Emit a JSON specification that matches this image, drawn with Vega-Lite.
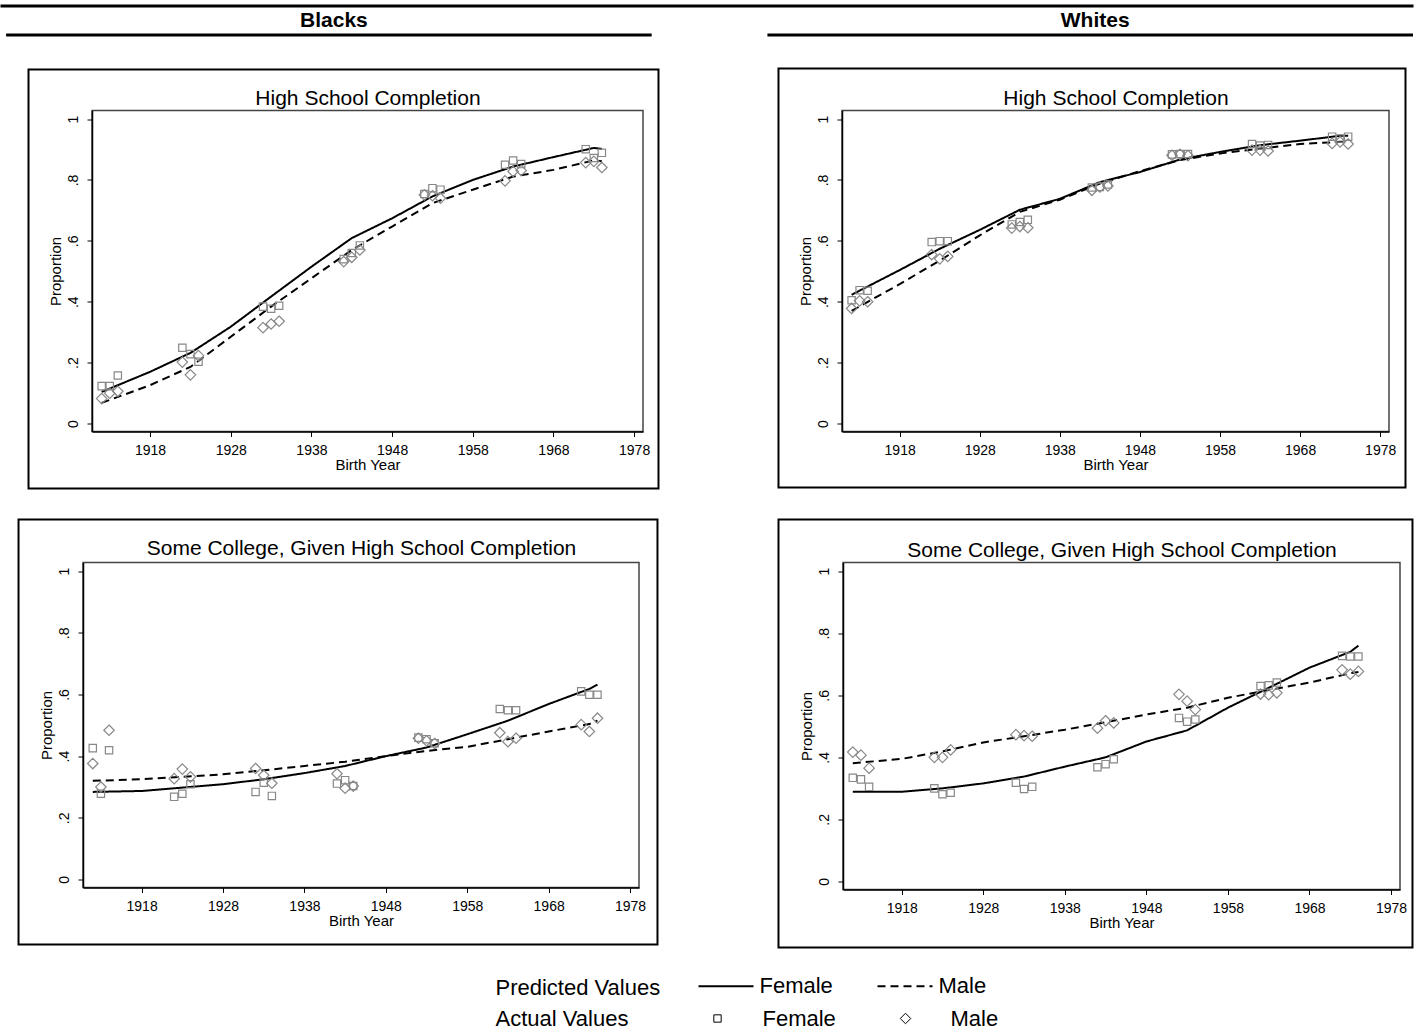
{
  "$schema": "https://vega.github.io/schema/vega-lite/v6.json",
  "padding": {"left": 0, "top": 5.5, "right": 0, "bottom": 0},
  "background": "white",
  "bounds": "flush",
  "spacing": 0,
  "config": {
    "font": "Liberation Sans",
    "view": {"stroke": "#444", "strokeWidth": 1.5},
    "axis": {"grid": false, "labelFontSize": 14, "labelColor": "black", "titleFontSize": 15, "titleFontWeight": "normal", "titleColor": "black", "tickColor": "black", "tickSize": 5, "domainColor": "black", "domainWidth": 1.5},
    "axisX": {"labelPadding": 7, "titlePadding": 0, "labelAngle": 0},
    "axisY": {"labelAngle": -90, "labelAlign": "center", "labelBaseline": "bottom", "labelPadding": 7, "titlePadding": 3},
    "legend": {"titleFontSize": 22, "labelFontSize": 22, "titleFontWeight": "normal", "titleColor": "black", "labelColor": "black", "titleLimit": 400, "labelLimit": 300}
  },
  "datasets": {
    "frames": [{"frame": "outer"}],
    "pred": [
      {"race":"Blacks","outcome":"HS","year":1912,"Female":0.104,"Male":0.068},
      {"race":"Blacks","outcome":"HS","year":1918,"Female":0.17,"Male":0.126},
      {"race":"Blacks","outcome":"HS","year":1923,"Female":0.232,"Male":0.186},
      {"race":"Blacks","outcome":"HS","year":1928,"Female":0.318,"Male":0.285},
      {"race":"Blacks","outcome":"HS","year":1933,"Female":0.417,"Male":0.384},
      {"race":"Blacks","outcome":"HS","year":1938,"Female":0.515,"Male":0.477},
      {"race":"Blacks","outcome":"HS","year":1943,"Female":0.609,"Male":0.57},
      {"race":"Blacks","outcome":"HS","year":1948,"Female":0.674,"Male":0.647},
      {"race":"Blacks","outcome":"HS","year":1953,"Female":0.746,"Male":0.724},
      {"race":"Blacks","outcome":"HS","year":1958,"Female":0.8,"Male":0.768},
      {"race":"Blacks","outcome":"HS","year":1963,"Female":0.844,"Male":0.811},
      {"race":"Blacks","outcome":"HS","year":1968,"Female":0.875,"Male":0.833},
      {"race":"Blacks","outcome":"HS","year":1973,"Female":0.905,"Male":0.864},
      {"race":"Blacks","outcome":"HS","year":1974,"Female":0.902,"Male":0.861},
      {"race":"Whites","outcome":"HS","year":1912,"Female":0.423,"Male":0.37},
      {"race":"Whites","outcome":"HS","year":1918,"Female":0.504,"Male":0.458},
      {"race":"Whites","outcome":"HS","year":1923,"Female":0.574,"Male":0.535},
      {"race":"Whites","outcome":"HS","year":1928,"Female":0.636,"Male":0.618},
      {"race":"Whites","outcome":"HS","year":1933,"Female":0.702,"Male":0.695},
      {"race":"Whites","outcome":"HS","year":1938,"Female":0.738,"Male":0.735},
      {"race":"Whites","outcome":"HS","year":1943,"Female":0.793,"Male":0.788},
      {"race":"Whites","outcome":"HS","year":1948,"Female":0.826,"Male":0.829},
      {"race":"Whites","outcome":"HS","year":1953,"Female":0.867,"Male":0.865},
      {"race":"Whites","outcome":"HS","year":1958,"Female":0.892,"Male":0.887},
      {"race":"Whites","outcome":"HS","year":1963,"Female":0.914,"Male":0.903},
      {"race":"Whites","outcome":"HS","year":1968,"Female":0.929,"Male":0.918},
      {"race":"Whites","outcome":"HS","year":1973,"Female":0.945,"Male":0.925},
      {"race":"Whites","outcome":"HS","year":1974,"Female":0.945,"Male":0.925},
      {"race":"Blacks","outcome":"SC","year":1912,"Female":0.284,"Male":0.32},
      {"race":"Blacks","outcome":"SC","year":1918,"Female":0.287,"Male":0.325},
      {"race":"Blacks","outcome":"SC","year":1923,"Female":0.298,"Male":0.333},
      {"race":"Blacks","outcome":"SC","year":1928,"Female":0.309,"Male":0.341},
      {"race":"Blacks","outcome":"SC","year":1933,"Female":0.325,"Male":0.354},
      {"race":"Blacks","outcome":"SC","year":1938,"Female":0.345,"Male":0.368},
      {"race":"Blacks","outcome":"SC","year":1943,"Female":0.368,"Male":0.382},
      {"race":"Blacks","outcome":"SC","year":1948,"Female":0.4,"Male":0.4},
      {"race":"Blacks","outcome":"SC","year":1953,"Female":0.428,"Male":0.417},
      {"race":"Blacks","outcome":"SC","year":1958,"Female":0.471,"Male":0.43},
      {"race":"Blacks","outcome":"SC","year":1963,"Female":0.515,"Male":0.455},
      {"race":"Blacks","outcome":"SC","year":1968,"Female":0.569,"Male":0.48},
      {"race":"Blacks","outcome":"SC","year":1973,"Female":0.618,"Male":0.504},
      {"race":"Blacks","outcome":"SC","year":1974,"Female":0.632,"Male":0.515},
      {"race":"Whites","outcome":"SC","year":1912,"Female":0.289,"Male":0.381},
      {"race":"Whites","outcome":"SC","year":1918,"Female":0.289,"Male":0.395},
      {"race":"Whites","outcome":"SC","year":1923,"Female":0.3,"Male":0.419},
      {"race":"Whites","outcome":"SC","year":1928,"Female":0.316,"Male":0.448},
      {"race":"Whites","outcome":"SC","year":1933,"Female":0.338,"Male":0.468},
      {"race":"Whites","outcome":"SC","year":1938,"Female":0.37,"Male":0.489},
      {"race":"Whites","outcome":"SC","year":1943,"Female":0.4,"Male":0.513},
      {"race":"Whites","outcome":"SC","year":1948,"Female":0.451,"Male":0.538},
      {"race":"Whites","outcome":"SC","year":1953,"Female":0.487,"Male":0.56},
      {"race":"Whites","outcome":"SC","year":1958,"Female":0.56,"Male":0.592},
      {"race":"Whites","outcome":"SC","year":1963,"Female":0.624,"Male":0.617},
      {"race":"Whites","outcome":"SC","year":1968,"Female":0.689,"Male":0.641},
      {"race":"Whites","outcome":"SC","year":1973,"Female":0.74,"Male":0.671},
      {"race":"Whites","outcome":"SC","year":1974,"Female":0.76,"Male":0.675}
    ],
    "act": [
      {"race":"Blacks","outcome":"HS","year":1912,"Female":0.123,"Male":0.082},
      {"race":"Blacks","outcome":"HS","year":1913,"Female":0.123,"Male":0.1},
      {"race":"Blacks","outcome":"HS","year":1914,"Female":0.158,"Male":0.106},
      {"race":"Blacks","outcome":"HS","year":1922,"Female":0.249,"Male":0.202},
      {"race":"Blacks","outcome":"HS","year":1923,"Female":0.228,"Male":0.16},
      {"race":"Blacks","outcome":"HS","year":1924,"Female":0.203,"Male":0.223},
      {"race":"Blacks","outcome":"HS","year":1932,"Female":0.384,"Male":0.315},
      {"race":"Blacks","outcome":"HS","year":1933,"Female":0.377,"Male":0.327},
      {"race":"Blacks","outcome":"HS","year":1934,"Female":0.387,"Male":0.336},
      {"race":"Blacks","outcome":"HS","year":1942,"Female":0.54,"Male":0.532},
      {"race":"Blacks","outcome":"HS","year":1943,"Female":0.56,"Male":0.546},
      {"race":"Blacks","outcome":"HS","year":1944,"Female":0.585,"Male":0.57},
      {"race":"Blacks","outcome":"HS","year":1952,"Female":0.754,"Male":0.751},
      {"race":"Blacks","outcome":"HS","year":1953,"Female":0.773,"Male":0.748},
      {"race":"Blacks","outcome":"HS","year":1954,"Female":0.768,"Male":0.74},
      {"race":"Blacks","outcome":"HS","year":1962,"Female":0.85,"Male":0.797},
      {"race":"Blacks","outcome":"HS","year":1963,"Female":0.864,"Male":0.828},
      {"race":"Blacks","outcome":"HS","year":1964,"Female":0.852,"Male":0.831},
      {"race":"Blacks","outcome":"HS","year":1972,"Female":0.901,"Male":0.857},
      {"race":"Blacks","outcome":"HS","year":1973,"Female":0.872,"Male":0.861},
      {"race":"Blacks","outcome":"HS","year":1974,"Female":0.889,"Male":0.841},
      {"race":"Whites","outcome":"HS","year":1912,"Female":0.405,"Male":0.378},
      {"race":"Whites","outcome":"HS","year":1913,"Female":0.438,"Male":0.403},
      {"race":"Whites","outcome":"HS","year":1914,"Female":0.436,"Male":0.4},
      {"race":"Whites","outcome":"HS","year":1922,"Female":0.596,"Male":0.555},
      {"race":"Whites","outcome":"HS","year":1923,"Female":0.599,"Male":0.541},
      {"race":"Whites","outcome":"HS","year":1924,"Female":0.599,"Male":0.549},
      {"race":"Whites","outcome":"HS","year":1932,"Female":0.654,"Male":0.642},
      {"race":"Whites","outcome":"HS","year":1933,"Female":0.662,"Male":0.647},
      {"race":"Whites","outcome":"HS","year":1934,"Female":0.669,"Male":0.643},
      {"race":"Whites","outcome":"HS","year":1942,"Female":0.775,"Male":0.766},
      {"race":"Whites","outcome":"HS","year":1943,"Female":0.777,"Male":0.777},
      {"race":"Whites","outcome":"HS","year":1944,"Female":0.785,"Male":0.78},
      {"race":"Whites","outcome":"HS","year":1952,"Female":0.884,"Male":0.881},
      {"race":"Whites","outcome":"HS","year":1953,"Female":0.885,"Male":0.884},
      {"race":"Whites","outcome":"HS","year":1954,"Female":0.885,"Male":0.88},
      {"race":"Whites","outcome":"HS","year":1962,"Female":0.918,"Male":0.898},
      {"race":"Whites","outcome":"HS","year":1963,"Female":0.913,"Male":0.898},
      {"race":"Whites","outcome":"HS","year":1964,"Female":0.915,"Male":0.895},
      {"race":"Whites","outcome":"HS","year":1972,"Female":0.942,"Male":0.92},
      {"race":"Whites","outcome":"HS","year":1973,"Female":0.936,"Male":0.925},
      {"race":"Whites","outcome":"HS","year":1974,"Female":0.942,"Male":0.918},
      {"race":"Blacks","outcome":"SC","year":1912,"Female":0.426,"Male":0.376},
      {"race":"Blacks","outcome":"SC","year":1913,"Female":0.278,"Male":0.3},
      {"race":"Blacks","outcome":"SC","year":1914,"Female":0.419,"Male":0.484},
      {"race":"Blacks","outcome":"SC","year":1922,"Female":0.268,"Male":0.327},
      {"race":"Blacks","outcome":"SC","year":1923,"Female":0.278,"Male":0.358},
      {"race":"Blacks","outcome":"SC","year":1924,"Female":0.309,"Male":0.333},
      {"race":"Blacks","outcome":"SC","year":1932,"Female":0.284,"Male":0.36},
      {"race":"Blacks","outcome":"SC","year":1933,"Female":0.314,"Male":0.338},
      {"race":"Blacks","outcome":"SC","year":1934,"Female":0.271,"Male":0.312},
      {"race":"Blacks","outcome":"SC","year":1942,"Female":0.311,"Male":0.343},
      {"race":"Blacks","outcome":"SC","year":1943,"Female":0.322,"Male":0.296},
      {"race":"Blacks","outcome":"SC","year":1944,"Female":0.303,"Male":0.303},
      {"race":"Blacks","outcome":"SC","year":1952,"Female":0.46,"Male":0.458},
      {"race":"Blacks","outcome":"SC","year":1953,"Female":0.455,"Male":0.45},
      {"race":"Blacks","outcome":"SC","year":1954,"Female":0.442,"Male":0.441},
      {"race":"Blacks","outcome":"SC","year":1962,"Female":0.553,"Male":0.476},
      {"race":"Blacks","outcome":"SC","year":1963,"Female":0.549,"Male":0.447},
      {"race":"Blacks","outcome":"SC","year":1964,"Female":0.549,"Male":0.458},
      {"race":"Blacks","outcome":"SC","year":1972,"Female":0.61,"Male":0.502},
      {"race":"Blacks","outcome":"SC","year":1973,"Female":0.599,"Male":0.48},
      {"race":"Blacks","outcome":"SC","year":1974,"Female":0.599,"Male":0.523},
      {"race":"Whites","outcome":"SC","year":1912,"Female":0.334,"Male":0.417},
      {"race":"Whites","outcome":"SC","year":1913,"Female":0.329,"Male":0.407},
      {"race":"Whites","outcome":"SC","year":1914,"Female":0.305,"Male":0.365},
      {"race":"Whites","outcome":"SC","year":1922,"Female":0.3,"Male":0.4},
      {"race":"Whites","outcome":"SC","year":1923,"Female":0.281,"Male":0.4},
      {"race":"Whites","outcome":"SC","year":1924,"Female":0.286,"Male":0.424},
      {"race":"Whites","outcome":"SC","year":1932,"Female":0.318,"Male":0.473},
      {"race":"Whites","outcome":"SC","year":1933,"Female":0.298,"Male":0.47},
      {"race":"Whites","outcome":"SC","year":1934,"Female":0.305,"Male":0.468},
      {"race":"Whites","outcome":"SC","year":1942,"Female":0.368,"Male":0.494},
      {"race":"Whites","outcome":"SC","year":1943,"Female":0.378,"Male":0.518},
      {"race":"Whites","outcome":"SC","year":1944,"Female":0.394,"Male":0.511},
      {"race":"Whites","outcome":"SC","year":1952,"Female":0.527,"Male":0.603},
      {"race":"Whites","outcome":"SC","year":1953,"Female":0.515,"Male":0.581},
      {"race":"Whites","outcome":"SC","year":1954,"Female":0.522,"Male":0.554},
      {"race":"Whites","outcome":"SC","year":1962,"Female":0.63,"Male":0.604},
      {"race":"Whites","outcome":"SC","year":1963,"Female":0.632,"Male":0.602},
      {"race":"Whites","outcome":"SC","year":1964,"Female":0.641,"Male":0.608},
      {"race":"Whites","outcome":"SC","year":1972,"Female":0.727,"Male":0.682},
      {"race":"Whites","outcome":"SC","year":1973,"Female":0.725,"Male":0.668},
      {"race":"Whites","outcome":"SC","year":1974,"Female":0.725,"Male":0.677}
    ]
  },
  "vconcat": [
    {
      "width": 1413, "height": 31,
      "view": {"stroke": null},
      "data": {"values": [{"race": "Blacks"}, {"race": "Whites"}]},
      "encoding": {"x": {"field": "race", "type": "nominal", "scale": {"type": "band", "paddingInner": 0.152, "paddingOuter": 0.004, "align": 1}, "axis": {"orient": "top", "title": null, "labels": false, "ticks": false, "domain": true, "domainWidth": 3, "domainColor": "black"}}},
      "layer": [
        {"mark": {"type": "bar", "color": "black"}, "encoding": {"y": {"datum": 0, "type": "quantitative", "scale": {"domain": [0, 1]}, "axis": null}, "y2": {"datum": 0.097}}},
        {"mark": {"type": "text", "fontSize": 21, "fontWeight": "bold", "baseline": "middle", "color": "black", "dx": 5}, "encoding": {"text": {"field": "race"}, "y": {"datum": 0.5, "type": "quantitative", "axis": null}}}
      ]
    },
    {"width": 1, "height": 74, "view": {"stroke": null}, "data": {"values": []}, "mark": "point"},
    {
      "bounds": "flush", "spacing": 0,
      "hconcat": [
        {"width": 92, "height": 321, "view": {"stroke": null}, "data": {"values": []}, "mark": "point"},
        {
          "width": 551, "height": 321,
          "resolve": {"axis": {"x": "independent"}},
          "layer": [
            {"data": {"name": "frames"}, "mark": {"type": "rect", "fillOpacity": 0, "stroke": "black", "strokeWidth": 2, "clip": false},
             "encoding": {
               "x": {"datum": 1902.93, "type": "quantitative", "scale": {"domain": [1910.8, 1979.1], "nice": false, "zero": false}, "axis": {"orient": "top", "title": "High School Completion", "labels": false, "ticks": false, "domain": false, "titleFontSize": 21, "titlePadding": 6.5, "titleBaseline": "alphabetic"}},
               "x2": {"datum": 1981.02},
               "y": {"datum": 1.1626, "type": "quantitative", "scale": {"domain": [-0.026, 1.028], "nice": false, "zero": false}, "axis": {"values": [0,0.2,0.4,0.6,0.8,1], "labelExpr": "datum.value == 0 ? '0' : datum.value > 0.99 ? '1' : '.' + round(datum.value * 10)", "title": "Proportion"}},
               "y2": {"datum": -0.2132}}},
            {"data": {"name": "pred"}, "transform": [{"filter": "datum.race == 'Blacks' && datum.outcome == 'HS'"}, {"fold": ["Female", "Male"], "as": ["sex", "p"]}],
             "mark": {"type": "line", "color": "black", "strokeWidth": 2},
             "encoding": {
               "x": {"field": "year", "type": "quantitative", "scale": {"domain": [1910.8, 1979.1], "nice": false, "zero": false}, "axis": {"values": [1918,1928,1938,1948,1958,1968,1978], "format": "d", "title": "Birth Year"}},
               "y": {"field": "p", "type": "quantitative", "scale": {"domain": [-0.026, 1.028], "nice": false, "zero": false}, "axis": {"values": [0,0.2,0.4,0.6,0.8,1], "labelExpr": "datum.value == 0 ? '0' : datum.value > 0.99 ? '1' : '.' + round(datum.value * 10)", "title": "Proportion"}},
               "strokeDash": {"field": "sex", "type": "nominal", "scale": {"domain": ["Female", "Male"], "range": [[1, 0], [8, 5]]}, "legend": {"title": "Predicted Values", "orient": "none", "legendX": 495.5, "legendY": 952, "direction": "horizontal", "titleOrient": "left", "titleAnchor": "middle", "titleBaseline": "top", "symbolType": "stroke", "symbolSize": 3025, "symbolStrokeWidth": 1.8, "symbolStrokeColor": "black", "labelOffset": 5, "columnPadding": 40, "titlePadding": 37}}}},
            {"data": {"name": "act"}, "transform": [{"filter": "datum.race == 'Blacks' && datum.outcome == 'HS'"}, {"fold": ["Female", "Male"], "as": ["sex_observed", "p"]}],
             "mark": {"type": "point", "filled": false, "color": "#888888", "strokeWidth": 1.2, "size": 110, "opacity": 1},
             "encoding": {
               "x": {"field": "year", "type": "quantitative", "scale": {"domain": [1910.8, 1979.1], "nice": false, "zero": false}, "axis": null},
               "y": {"field": "p", "type": "quantitative", "scale": {"domain": [-0.026, 1.028], "nice": false, "zero": false}, "axis": {"values": [0,0.2,0.4,0.6,0.8,1], "labelExpr": "datum.value == 0 ? '0' : datum.value > 0.99 ? '1' : '.' + round(datum.value * 10)", "title": "Proportion"}},
               "shape": {"field": "sex_observed", "type": "nominal", "scale": {"range": ["M-0.7,-0.7H0.7V0.7H-0.7Z", "M0,-1L1,0L0,1L-1,0Z"]}, "legend": {"title": "Actual Values", "orient": "none", "legendX": 495.5, "legendY": 1002, "direction": "horizontal", "titleOrient": "left", "titleAnchor": "middle", "titleBaseline": "middle", "symbolSize": 110, "symbolStrokeColor": "black", "symbolStrokeWidth": 1, "labelOffset": 34, "columnPadding": 58, "titlePadding": 78}}}}
          ]
        },
        {"width": 199, "height": 321, "view": {"stroke": null}, "data": {"values": []}, "mark": "point"},
        {
          "width": 547, "height": 321,
          "resolve": {"axis": {"x": "independent"}},
          "layer": [
            {"data": {"name": "frames"}, "mark": {"type": "rect", "fillOpacity": 0, "stroke": "black", "strokeWidth": 2, "clip": false},
             "encoding": {
               "x": {"datum": 1902.87, "type": "quantitative", "scale": {"domain": [1910.8, 1979.1], "nice": false, "zero": false}, "axis": {"orient": "top", "title": "High School Completion", "labels": false, "ticks": false, "domain": false, "titleFontSize": 21, "titlePadding": 6.5, "titleBaseline": "alphabetic"}},
               "x2": {"datum": 1981.16},
               "y": {"datum": 1.1659, "type": "quantitative", "scale": {"domain": [-0.026, 1.028], "nice": false, "zero": false}, "axis": {"values": [0,0.2,0.4,0.6,0.8,1], "labelExpr": "datum.value == 0 ? '0' : datum.value > 0.99 ? '1' : '.' + round(datum.value * 10)", "title": "Proportion"}},
               "y2": {"datum": -0.2099}}},
            {"data": {"name": "pred"}, "transform": [{"filter": "datum.race == 'Whites' && datum.outcome == 'HS'"}, {"fold": ["Female", "Male"], "as": ["sex", "p"]}],
             "mark": {"type": "line", "color": "black", "strokeWidth": 2},
             "encoding": {
               "x": {"field": "year", "type": "quantitative", "scale": {"domain": [1910.8, 1979.1], "nice": false, "zero": false}, "axis": {"values": [1918,1928,1938,1948,1958,1968,1978], "format": "d", "title": "Birth Year"}},
               "y": {"field": "p", "type": "quantitative", "scale": {"domain": [-0.026, 1.028], "nice": false, "zero": false}, "axis": {"values": [0,0.2,0.4,0.6,0.8,1], "labelExpr": "datum.value == 0 ? '0' : datum.value > 0.99 ? '1' : '.' + round(datum.value * 10)", "title": "Proportion"}},
               "strokeDash": {"field": "sex", "type": "nominal", "scale": {"domain": ["Female", "Male"], "range": [[1, 0], [8, 5]]}, "legend": {"title": "Predicted Values", "orient": "none", "legendX": 495.5, "legendY": 952, "direction": "horizontal", "titleOrient": "left", "titleAnchor": "middle", "titleBaseline": "top", "symbolType": "stroke", "symbolSize": 3025, "symbolStrokeWidth": 1.8, "symbolStrokeColor": "black", "labelOffset": 5, "columnPadding": 40, "titlePadding": 37}}}},
            {"data": {"name": "act"}, "transform": [{"filter": "datum.race == 'Whites' && datum.outcome == 'HS'"}, {"fold": ["Female", "Male"], "as": ["sex_observed", "p"]}],
             "mark": {"type": "point", "filled": false, "color": "#888888", "strokeWidth": 1.2, "size": 110, "opacity": 1},
             "encoding": {
               "x": {"field": "year", "type": "quantitative", "scale": {"domain": [1910.8, 1979.1], "nice": false, "zero": false}, "axis": null},
               "y": {"field": "p", "type": "quantitative", "scale": {"domain": [-0.026, 1.028], "nice": false, "zero": false}, "axis": {"values": [0,0.2,0.4,0.6,0.8,1], "labelExpr": "datum.value == 0 ? '0' : datum.value > 0.99 ? '1' : '.' + round(datum.value * 10)", "title": "Proportion"}},
               "shape": {"field": "sex_observed", "type": "nominal", "scale": {"range": ["M-0.7,-0.7H0.7V0.7H-0.7Z", "M0,-1L1,0L0,1L-1,0Z"]}, "legend": {"title": "Actual Values", "orient": "none", "legendX": 495.5, "legendY": 1002, "direction": "horizontal", "titleOrient": "left", "titleAnchor": "middle", "titleBaseline": "middle", "symbolSize": 110, "symbolStrokeColor": "black", "symbolStrokeWidth": 1, "labelOffset": 34, "columnPadding": 58, "titlePadding": 78}}}}
          ]
        }
      ]
    },
    {"width": 1, "height": 452, "view": {"stroke": null}, "data": {"values": []}, "mark": "point"},
    {
      "bounds": "flush", "spacing": 0,
      "hconcat": [
        {"width": 83, "height": 325, "view": {"stroke": null}, "data": {"values": []}, "mark": "point"},
        {
          "width": 556, "height": 325,
          "resolve": {"axis": {"x": "independent"}},
          "layer": [
            {"data": {"name": "frames"}, "mark": {"type": "rect", "fillOpacity": 0, "stroke": "black", "strokeWidth": 2, "clip": false},
             "encoding": {
               "x": {"datum": 1902.88, "type": "quantitative", "scale": {"domain": [1910.8, 1979.1], "nice": false, "zero": false}, "axis": {"orient": "top", "title": "Some College, Given High School Completion", "labels": false, "ticks": false, "domain": false, "titleFontSize": 21, "titlePadding": 8, "titleBaseline": "alphabetic"}},
               "x2": {"datum": 1981.37},
               "y": {"datum": 1.1674, "type": "quantitative", "scale": {"domain": [-0.026, 1.028], "nice": false, "zero": false}, "axis": {"values": [0,0.2,0.4,0.6,0.8,1], "labelExpr": "datum.value == 0 ? '0' : datum.value > 0.99 ? '1' : '.' + round(datum.value * 10)", "title": "Proportion"}},
               "y2": {"datum": -0.2109}}},
            {"data": {"name": "pred"}, "transform": [{"filter": "datum.race == 'Blacks' && datum.outcome == 'SC'"}, {"fold": ["Female", "Male"], "as": ["sex", "p"]}],
             "mark": {"type": "line", "color": "black", "strokeWidth": 2},
             "encoding": {
               "x": {"field": "year", "type": "quantitative", "scale": {"domain": [1910.8, 1979.1], "nice": false, "zero": false}, "axis": {"values": [1918,1928,1938,1948,1958,1968,1978], "format": "d", "title": "Birth Year"}},
               "y": {"field": "p", "type": "quantitative", "scale": {"domain": [-0.026, 1.028], "nice": false, "zero": false}, "axis": {"values": [0,0.2,0.4,0.6,0.8,1], "labelExpr": "datum.value == 0 ? '0' : datum.value > 0.99 ? '1' : '.' + round(datum.value * 10)", "title": "Proportion"}},
               "strokeDash": {"field": "sex", "type": "nominal", "scale": {"domain": ["Female", "Male"], "range": [[1, 0], [8, 5]]}, "legend": {"title": "Predicted Values", "orient": "none", "legendX": 495.5, "legendY": 952, "direction": "horizontal", "titleOrient": "left", "titleAnchor": "middle", "titleBaseline": "top", "symbolType": "stroke", "symbolSize": 3025, "symbolStrokeWidth": 1.8, "symbolStrokeColor": "black", "labelOffset": 5, "columnPadding": 40, "titlePadding": 37}}}},
            {"data": {"name": "act"}, "transform": [{"filter": "datum.race == 'Blacks' && datum.outcome == 'SC'"}, {"fold": ["Female", "Male"], "as": ["sex_observed", "p"]}],
             "mark": {"type": "point", "filled": false, "color": "#888888", "strokeWidth": 1.2, "size": 110, "opacity": 1},
             "encoding": {
               "x": {"field": "year", "type": "quantitative", "scale": {"domain": [1910.8, 1979.1], "nice": false, "zero": false}, "axis": null},
               "y": {"field": "p", "type": "quantitative", "scale": {"domain": [-0.026, 1.028], "nice": false, "zero": false}, "axis": {"values": [0,0.2,0.4,0.6,0.8,1], "labelExpr": "datum.value == 0 ? '0' : datum.value > 0.99 ? '1' : '.' + round(datum.value * 10)", "title": "Proportion"}},
               "shape": {"field": "sex_observed", "type": "nominal", "scale": {"range": ["M-0.7,-0.7H0.7V0.7H-0.7Z", "M0,-1L1,0L0,1L-1,0Z"]}, "legend": {"title": "Actual Values", "orient": "none", "legendX": 495.5, "legendY": 1002, "direction": "horizontal", "titleOrient": "left", "titleAnchor": "middle", "titleBaseline": "middle", "symbolSize": 110, "symbolStrokeColor": "black", "symbolStrokeWidth": 1, "labelOffset": 34, "columnPadding": 58, "titlePadding": 78}}}}
          ]
        },
        {"width": 204, "height": 325, "view": {"stroke": null}, "data": {"values": []}, "mark": "point"},
        {
          "width": 557, "height": 327,
          "resolve": {"axis": {"x": "independent"}},
          "layer": [
            {"data": {"name": "frames"}, "mark": {"type": "rect", "fillOpacity": 0, "stroke": "black", "strokeWidth": 2, "clip": false},
             "encoding": {
               "x": {"datum": 1902.89, "type": "quantitative", "scale": {"domain": [1910.8, 1979.1], "nice": false, "zero": false}, "axis": {"orient": "top", "title": "Some College, Given High School Completion", "labels": false, "ticks": false, "domain": false, "titleFontSize": 21, "titlePadding": 6, "titleBaseline": "alphabetic"}},
               "x2": {"datum": 1980.63},
               "y": {"datum": 1.1666, "type": "quantitative", "scale": {"domain": [-0.026, 1.028], "nice": false, "zero": false}, "axis": {"values": [0,0.2,0.4,0.6,0.8,1], "labelExpr": "datum.value == 0 ? '0' : datum.value > 0.99 ? '1' : '.' + round(datum.value * 10)", "title": "Proportion"}},
               "y2": {"datum": -0.213}}},
            {"data": {"name": "pred"}, "transform": [{"filter": "datum.race == 'Whites' && datum.outcome == 'SC'"}, {"fold": ["Female", "Male"], "as": ["sex", "p"]}],
             "mark": {"type": "line", "color": "black", "strokeWidth": 2},
             "encoding": {
               "x": {"field": "year", "type": "quantitative", "scale": {"domain": [1910.8, 1979.1], "nice": false, "zero": false}, "axis": {"values": [1918,1928,1938,1948,1958,1968,1978], "format": "d", "title": "Birth Year"}},
               "y": {"field": "p", "type": "quantitative", "scale": {"domain": [-0.026, 1.028], "nice": false, "zero": false}, "axis": {"values": [0,0.2,0.4,0.6,0.8,1], "labelExpr": "datum.value == 0 ? '0' : datum.value > 0.99 ? '1' : '.' + round(datum.value * 10)", "title": "Proportion"}},
               "strokeDash": {"field": "sex", "type": "nominal", "scale": {"domain": ["Female", "Male"], "range": [[1, 0], [8, 5]]}, "legend": {"title": "Predicted Values", "orient": "none", "legendX": 495.5, "legendY": 952, "direction": "horizontal", "titleOrient": "left", "titleAnchor": "middle", "titleBaseline": "top", "symbolType": "stroke", "symbolSize": 3025, "symbolStrokeWidth": 1.8, "symbolStrokeColor": "black", "labelOffset": 5, "columnPadding": 40, "titlePadding": 37}}}},
            {"data": {"name": "act"}, "transform": [{"filter": "datum.race == 'Whites' && datum.outcome == 'SC'"}, {"fold": ["Female", "Male"], "as": ["sex_observed", "p"]}],
             "mark": {"type": "point", "filled": false, "color": "#888888", "strokeWidth": 1.2, "size": 110, "opacity": 1},
             "encoding": {
               "x": {"field": "year", "type": "quantitative", "scale": {"domain": [1910.8, 1979.1], "nice": false, "zero": false}, "axis": null},
               "y": {"field": "p", "type": "quantitative", "scale": {"domain": [-0.026, 1.028], "nice": false, "zero": false}, "axis": {"values": [0,0.2,0.4,0.6,0.8,1], "labelExpr": "datum.value == 0 ? '0' : datum.value > 0.99 ? '1' : '.' + round(datum.value * 10)", "title": "Proportion"}},
               "shape": {"field": "sex_observed", "type": "nominal", "scale": {"range": ["M-0.7,-0.7H0.7V0.7H-0.7Z", "M0,-1L1,0L0,1L-1,0Z"]}, "legend": {"title": "Actual Values", "orient": "none", "legendX": 495.5, "legendY": 1002, "direction": "horizontal", "titleOrient": "left", "titleAnchor": "middle", "titleBaseline": "middle", "symbolSize": 110, "symbolStrokeColor": "black", "symbolStrokeWidth": 1, "labelOffset": 34, "columnPadding": 58, "titlePadding": 78}}}}
          ]
        }
      ]
    }
  ]
}
